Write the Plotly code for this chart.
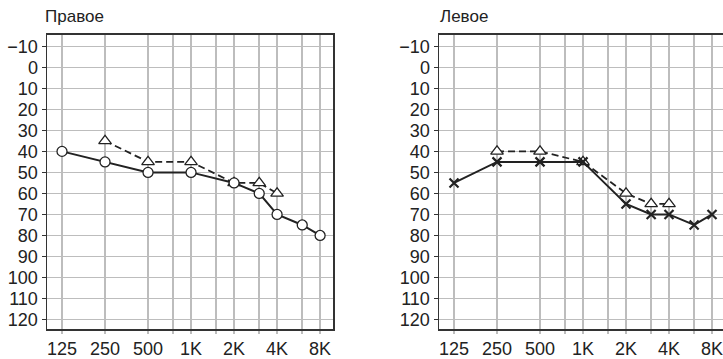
import math
import plotly.graph_objects as go

W, H = 723, 359

freqs = [125, 250, 500, 1000, 2000, 3000, 4000, 6000, 8000]
right_air = [40, 45, 50, 50, 55, 60, 70, 75, 80]
right_bone_f = [250, 500, 1000, 2000, 3000, 4000]
right_bone = [35, 45, 45, 55, 55, 60]
left_air = [55, 45, 45, 45, 65, 70, 70, 75, 70]
left_bone_f = [250, 500, 1000, 2000, 3000, 4000]
left_bone = [40, 40, 45, 60, 65, 65]

grid_freqs = [125, 250, 500, 750, 1000, 1500, 2000, 3000, 4000, 6000, 8000]
grid_labels = ["125", "250", "500", "", "1K", "", "2K", "", "4K", "", "8K"]
db_ticks = list(range(-10, 121, 10))
db_labels = [("\u2212" + str(-v)) if v < 0 else str(v) for v in db_ticks]
titles = ["Правое", "Левое"]

INK = "#222222"
GRID = "#bdbdbd"
FONT = dict(family="Liberation Sans, Arial, sans-serif", size=18, color="#222222")

fig = go.Figure()

# Right ear
fig.add_trace(go.Scatter(x=right_bone_f, y=right_bone, mode="lines+markers",
                         line=dict(color=INK, width=1.8, dash="7px,4px"),
                         marker=dict(symbol="triangle-up", size=11, color="white",
                                     line=dict(color=INK, width=1.3)),
                         xaxis="x", yaxis="y", showlegend=False))
fig.add_trace(go.Scatter(x=freqs, y=right_air, mode="lines+markers",
                         line=dict(color=INK, width=2),
                         marker=dict(symbol="circle", size=10, color="white",
                                     line=dict(color=INK, width=1.3)),
                         xaxis="x", yaxis="y", showlegend=False))
# Left ear
fig.add_trace(go.Scatter(x=left_bone_f, y=left_bone, mode="lines+markers",
                         line=dict(color=INK, width=1.8, dash="7px,4px"),
                         marker=dict(symbol="triangle-up", size=11, color="white",
                                     line=dict(color=INK, width=1.3)),
                         xaxis="x2", yaxis="y2", showlegend=False))
fig.add_trace(go.Scatter(x=freqs, y=left_air, mode="lines+markers",
                         line=dict(color=INK, width=2),
                         marker=dict(symbol="x-thin", size=9, color=INK,
                                     line=dict(color=INK, width=2.2)),
                         xaxis="x2", yaxis="y2", showlegend=False))

lo = math.log10(125) - 0.349 * math.log10(2)
hi1 = math.log10(8000) + 0.30 * math.log10(2)
hi2 = lo + (284 / 43.0) * math.log10(2)

ydom = [(H - 332) / H, (H - 35) / H]

common_x = dict(type="log", tickmode="array", tickvals=grid_freqs, ticktext=grid_labels,
                showgrid=True, gridcolor=GRID, gridwidth=1.5,
                showline=True, linecolor="#333333", linewidth=1.5, mirror=True,
                ticks="outside", ticklen=3, tickcolor=GRID, tickwidth=1.5,
                tickfont=FONT, zeroline=False, ticklabeloverflow="allow")
common_y = dict(range=[124.6, -15.5], tickmode="array", tickvals=db_ticks, ticktext=db_labels,
                showgrid=True, gridcolor=GRID, gridwidth=1.5,
                showline=True, linecolor="#333333", linewidth=1.5,
                ticks="outside", ticklen=4, tickcolor="#333333", tickwidth=1.5,
                tickfont=FONT, zeroline=False, domain=ydom)

fig.update_layout(
    width=W, height=H,
    margin=dict(l=0, r=0, t=0, b=0),
    paper_bgcolor="white", plot_bgcolor="white",
    hovermode=False,
    xaxis=dict(common_x, domain=[47 / W, 333 / W], range=[lo, hi1], anchor="y"),
    yaxis=dict(common_y, anchor="x", mirror=True),
    xaxis2=dict(common_x, domain=[439 / W, 1.0], range=[lo, hi2], anchor="y2"),
    yaxis2=dict(common_y, anchor="x2", mirror=False),
    annotations=[
        dict(text=titles[0], x=43 / W, y=(H - 17) / H, xref="paper", yref="paper",
             xanchor="left", yanchor="middle", showarrow=False,
             font=dict(family=FONT["family"], size=17, color="#222222")),
        dict(text=titles[1], x=438 / W, y=(H - 17) / H, xref="paper", yref="paper",
             xanchor="left", yanchor="middle", showarrow=False,
             font=dict(family=FONT["family"], size=17, color="#222222")),
    ],
)

fig.write_html("out.html", config={"displayModeBar": False, "staticPlot": True},
               post_script="document.body.style.margin='0';document.body.style.padding='0';"
                           "document.documentElement.style.overflow='hidden';")
